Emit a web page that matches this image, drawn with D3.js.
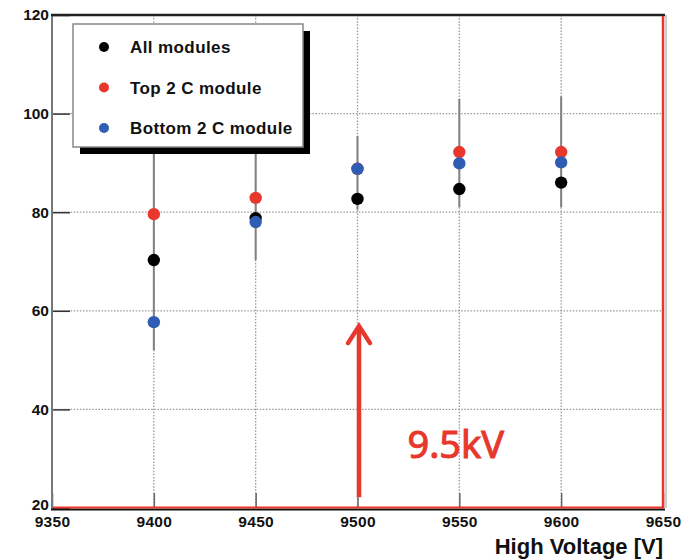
<!DOCTYPE html>
<html>
<head>
<meta charset="utf-8">
<script src="https://cdn.jsdelivr.net/npm/d3@7"></script>
<style>
	body { margin: 0; background: #fff; }
	svg { display: block; }
	.tickLabel text { font-family: "Liberation Sans", Arial, sans-serif; font-weight: bold; font-size: 15.5px; fill: #111; }
	.xLabels text { letter-spacing: 0.3px; }
	.legendText { font-family: "Liberation Sans", Arial, sans-serif; font-weight: bold; font-size: 17px; letter-spacing: 0.4px; fill: #111; }
</style>
</head>
<body>
<svg id="chart" width="696" height="559"></svg>
<script>
// high voltage settings (x values)
var highVoltage = [9400, 9450, 9500, 9550, 9600];

// efficiency per series
var allModules = [70.3, 78.8, 82.7, 84.7, 86.0];
var top2C = [79.6, 82.9, 88.8, 92.2, 92.2];
var bottom2C = [57.7, 78.0, 88.8, 89.9, 90.1];

// vertical error ranges drawn in grey
var errLow = [52.0, 70.3, 80.5, 81.0, 81.0];
var errHigh = [100.0, 95.0, 95.5, 103.0, 103.5];

// axis tick labels
var xTicks = [9350, 9400, 9450, 9500, 9550, 9600, 9650];
var yTicks = [20, 40, 60, 80, 100, 120];

var seriesNames = ["All modules", "Top 2 C module", "Bottom 2 C module"];
var seriesColors = ["#000000", "#e8372c", "#2f5db3"];

var svg = d3.select("#chart");
var margin = {top: 15, right: 33, bottom: 51, left: 52};
var width = 696 - margin.left - margin.right;
var height = 559 - margin.top - margin.bottom;

var x = d3.scaleLinear()
	.domain([9350, 9650])
	.range([margin.left, margin.left + width]);

var y = d3.scaleLinear()
	.domain([20, 120])
	.range([margin.top + height, margin.top]);

// dotted grid lines
svg.append("g")
	.selectAll("line")
	.data(xTicks.slice(1, -1))
	.enter()
	.append("line")
	.attr("x1", function(d) { return x(d); })
	.attr("x2", function(d) { return x(d); })
	.attr("y1", y(120))
	.attr("y2", y(20))
	.attr("stroke", "#999")
	.attr("stroke-width", 1.3)
	.attr("stroke-dasharray", "1.5,1.6");

svg.append("g")
	.selectAll("line")
	.data(yTicks.slice(1, -1))
	.enter()
	.append("line")
	.attr("x1", x(9350))
	.attr("x2", x(9650))
	.attr("y1", function(d) { return y(d); })
	.attr("y2", function(d) { return y(d); })
	.attr("stroke", "#999")
	.attr("stroke-width", 1.3)
	.attr("stroke-dasharray", "1.5,1.6");

// axes with ticks pointing inside
var xAxis = svg.append("g")
	.attr("class", "tickLabel xLabels")
	.attr("transform", "translate(0," + y(20) + ")")
	.call(d3.axisBottom(x).tickValues(xTicks).tickSize(-15).tickSizeOuter(0).tickPadding(8).tickFormat(d3.format("d")));

var yAxis = svg.append("g")
	.attr("class", "tickLabel")
	.attr("transform", "translate(" + x(9350) + ",0)")
	.call(d3.axisLeft(y).tickValues(yTicks).tickSize(-18).tickSizeOuter(0).tickPadding(3).tickFormat(d3.format("d")));

xAxis.selectAll(".tick line").attr("stroke", "#666").attr("stroke-width", 1.5);
yAxis.selectAll(".tick line").attr("stroke", "#333").attr("stroke-width", 1.5);
xAxis.select(".domain").remove();
yAxis.select(".domain").remove();
xAxis.attr("font-size", null).attr("font-family", null);
yAxis.attr("font-size", null).attr("font-family", null);

// lift the bottom y label a little so it clears 9350
yAxis.selectAll(".tick text")
	.filter(function(d) { return d == 20; })
	.attr("dy", "0.1em");

// grey error bars
svg.append("g")
	.selectAll("line")
	.data(highVoltage)
	.enter()
	.append("line")
	.attr("x1", function(d) { return x(d); })
	.attr("x2", function(d) { return x(d); })
	.attr("y1", function(d, i) { return y(errHigh[i]); })
	.attr("y2", function(d, i) { return y(errLow[i]); })
	.attr("stroke", "#808080")
	.attr("stroke-width", 2);

// markers, one group per series
[allModules, top2C, bottom2C].forEach(function(values, s) {
	svg.append("g")
		.selectAll("circle")
		.data(values)
		.enter()
		.append("circle")
		.attr("cx", function(d, i) { return x(highVoltage[i]); })
		.attr("cy", function(d) { return y(d); })
		.attr("r", 6.2)
		.attr("fill", seriesColors[s]);
});

// frame
svg.append("line")
	.attr("x1", x(9350)).attr("x2", x(9350))
	.attr("y1", y(120)).attr("y2", y(20) + 1)
	.attr("stroke", "#777").attr("stroke-width", 2);
svg.append("line")
	.attr("x1", x(9350) - 1).attr("x2", x(9650) + 2)
	.attr("y1", y(120)).attr("y2", y(120))
	.attr("stroke", "#222").attr("stroke-width", 2.5);
svg.append("line")
	.attr("x1", x(9350) - 1).attr("x2", x(9650) + 2)
	.attr("y1", y(20) + 1.5).attr("y2", y(20) + 1.5)
	.attr("stroke", "#111").attr("stroke-width", 2);
svg.append("line")
	.attr("x1", x(9650) + 3).attr("x2", x(9650) + 3)
	.attr("y1", y(120)).attr("y2", y(20))
	.attr("stroke", "#bbb").attr("stroke-width", 1.5);

// red highlight lines along the bottom and right edge
svg.append("line")
	.attr("x1", x(9350) + 1).attr("x2", x(9650))
	.attr("y1", y(20) - 0.5).attr("y2", y(20) - 0.5)
	.attr("stroke", "#e8372c").attr("stroke-width", 2);
svg.append("line")
	.attr("x1", x(9650)).attr("x2", x(9650))
	.attr("y1", y(120) + 1).attr("y2", y(20))
	.attr("stroke", "#e8372c").attr("stroke-width", 2.5);

// legend with drop shadow
var legend = svg.append("g")
	.attr("transform", "translate(73,24)");

legend.append("rect")
	.attr("x", 7).attr("y", 7)
	.attr("width", 230).attr("height", 123)
	.attr("fill", "#000");

legend.append("rect")
	.attr("width", 230).attr("height", 123)
	.attr("fill", "#fff")
	.attr("stroke", "#888")
	.attr("stroke-width", 1.5);

var legendRow = legend.selectAll(".legendRow")
	.data(seriesNames)
	.enter()
	.append("g")
	.attr("class", "legendRow")
	.attr("transform", function(d, i) { return "translate(0," + (23 + i * 40.5) + ")"; });

legendRow.append("circle")
	.attr("cx", 31)
	.attr("r", 5)
	.attr("fill", function(d, i) { return seriesColors[i]; });

legendRow.append("text")
	.attr("class", "legendText")
	.attr("x", 57)
	.attr("dy", "0.36em")
	.text(function(d) { return d; });

// axis title
svg.append("text")
	.attr("x", x(9650))
	.attr("y", 554)
	.attr("text-anchor", "end")
	.attr("font-family", "'Liberation Sans', Arial, sans-serif")
	.attr("font-weight", "bold")
	.attr("font-size", 22)
	.attr("fill", "#111")
	.text("High Voltage [V]");

// red arrow pointing at 9.5 kV
var arrowX = x(9500) + 1.5;
var arrowTip = y(57.3);
svg.append("line")
	.attr("x1", arrowX).attr("x2", arrowX)
	.attr("y1", y(22.2)).attr("y2", arrowTip + 3)
	.attr("stroke", "#e8372c")
	.attr("stroke-width", 4.5);
svg.append("path")
	.attr("d", "M" + (arrowX - 11) + "," + (arrowTip + 19) + "L" + arrowX + "," + (arrowTip + 2) + "L" + (arrowX + 11) + "," + (arrowTip + 19))
	.attr("fill", "none")
	.attr("stroke", "#e8372c")
	.attr("stroke-width", 4.5)
	.attr("stroke-linecap", "round")
	.attr("stroke-linejoin", "miter");

svg.append("text")
	.attr("x", x(9524.5))
	.attr("y", y(30.2))
	.attr("font-family", "'Noto Sans', sans-serif")
	.attr("font-size", 38)
	.attr("fill", "#e8372c")
	.attr("stroke", "#e8372c")
	.attr("stroke-width", 1)
	.text("9.5kV");
</script>
</body>
</html>
